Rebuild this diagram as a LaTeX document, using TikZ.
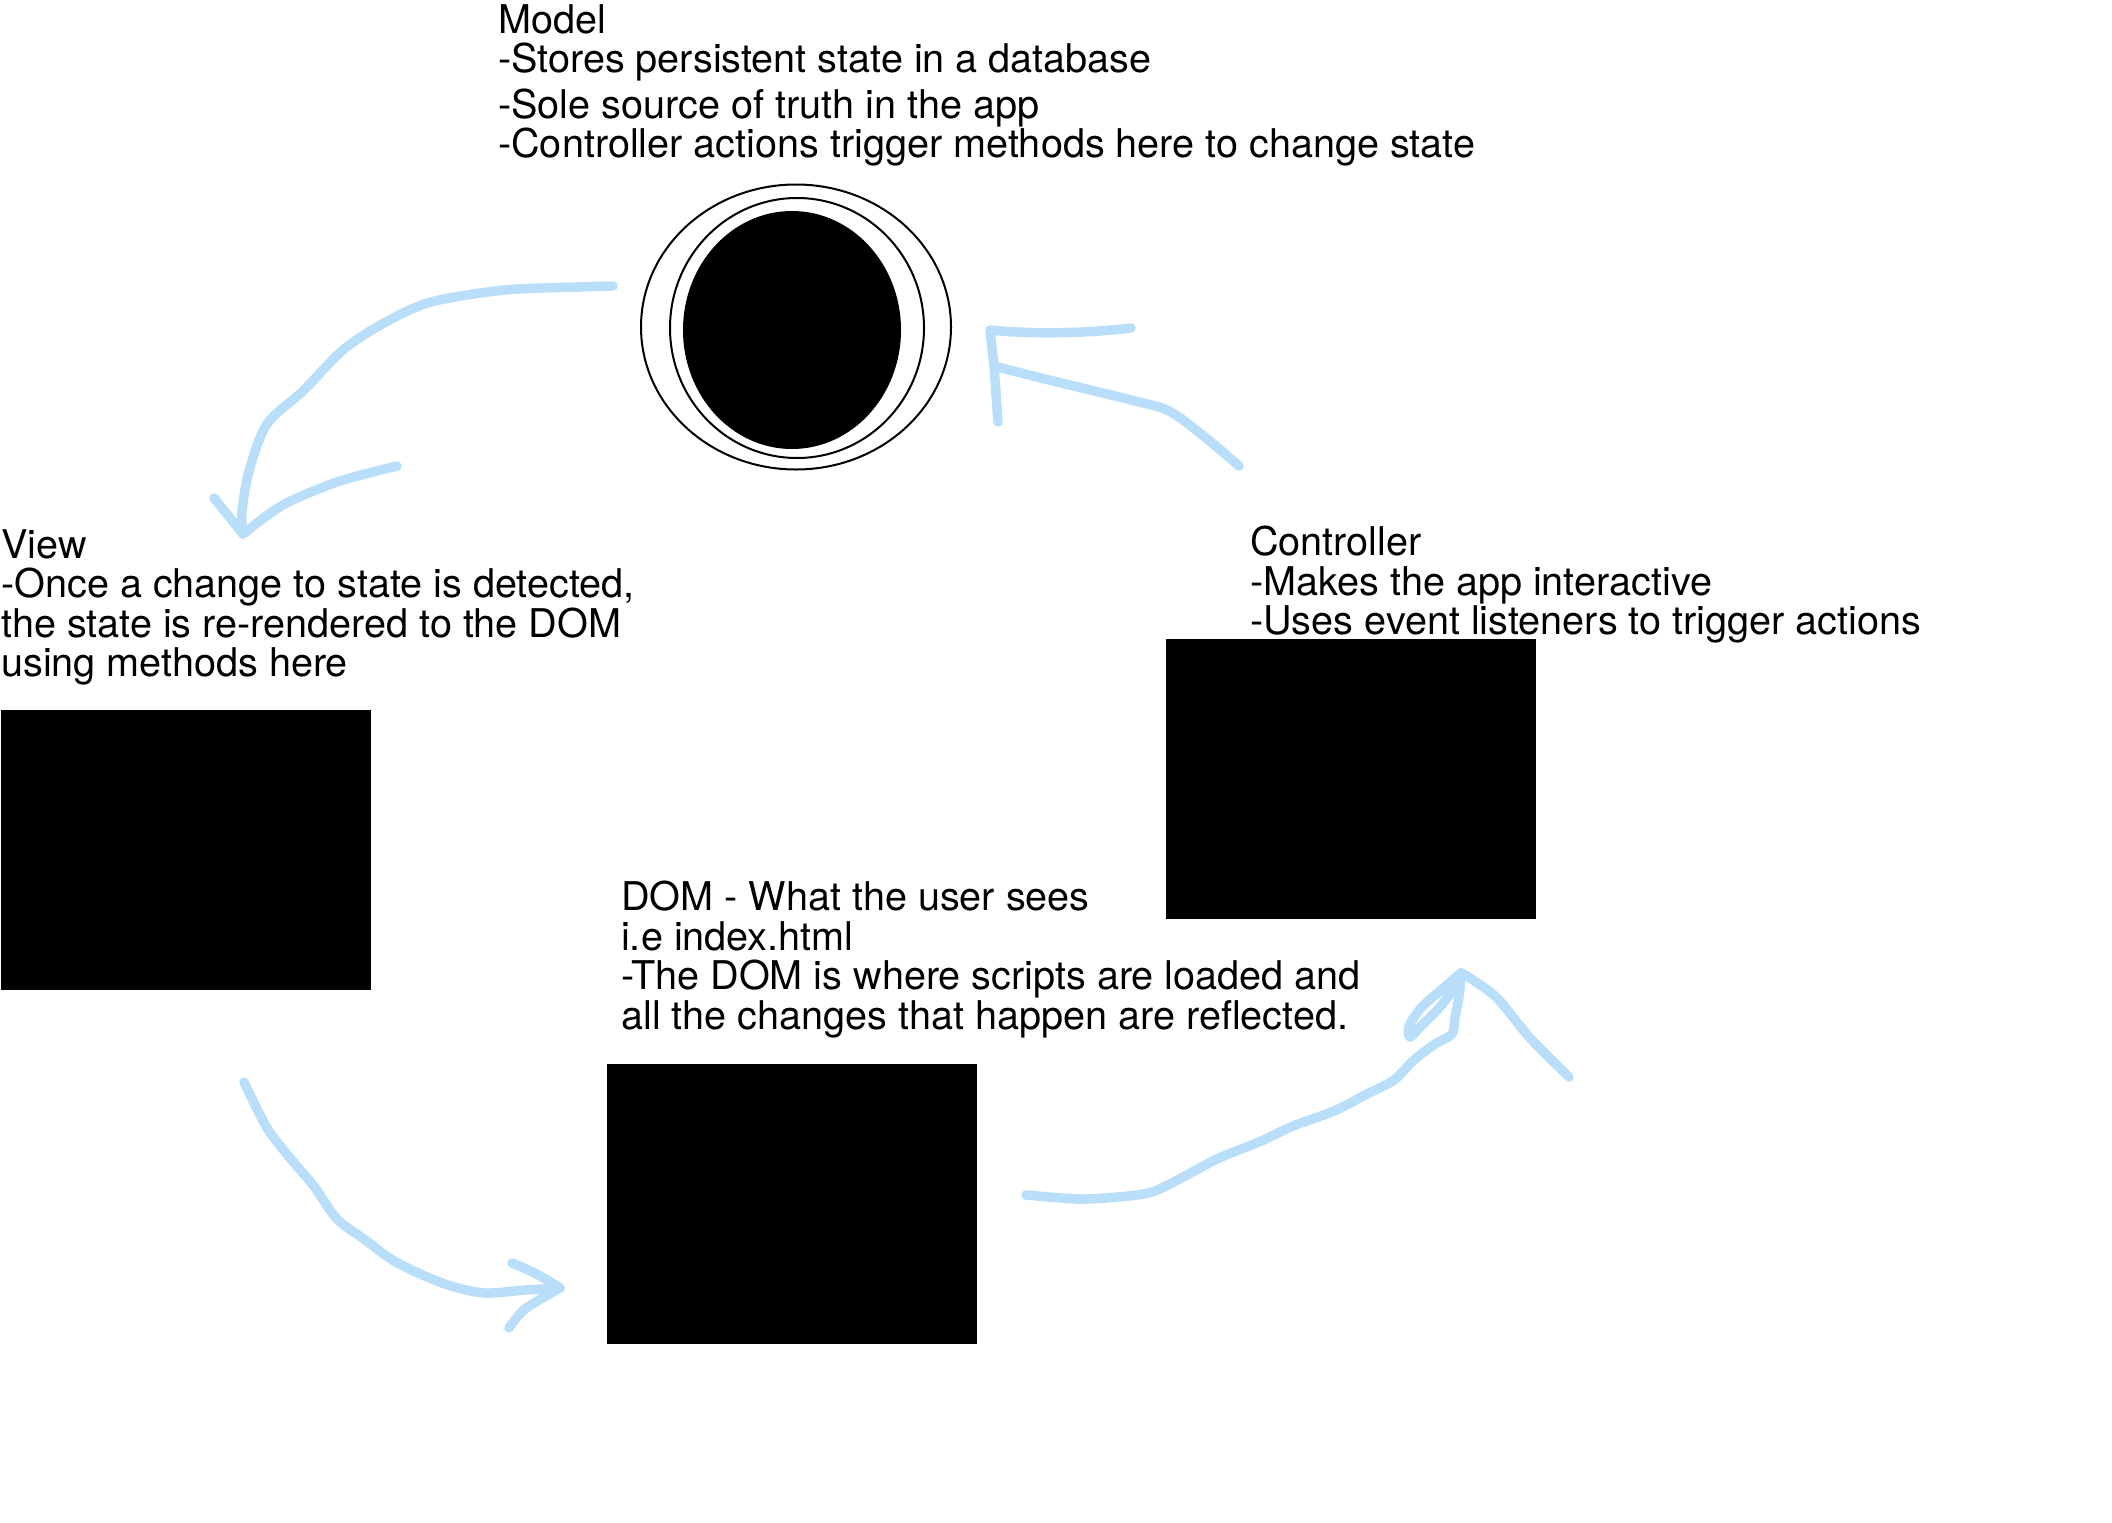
\documentclass[tikz,border=0pt]{standalone}
\usepackage{fontspec}
\setmainfont{TeX Gyre Heros}
\usetikzlibrary{shapes.geometric}

\definecolor{penblue}{RGB}{184,222,250}

\begin{document}
\begin{tikzpicture}[x=1pt,y=-1pt,
  sketch/.style={penblue, line width=9.5pt, line cap=round, line join=round},
  blackbox/.style={fill=black, inner sep=0pt, minimum width=370pt, minimum height=280pt},
  ring/.style={ellipse, draw, line width=2pt, inner sep=0pt},
  blurb/.style={anchor=north west, align=left, inner sep=0pt, font=\fontsize{39.6}{39.5}\selectfont}]

  \useasboundingbox (0,0) rectangle (2112,1523);

  % Texts
  \node[blurb] (model-txt) at (498,4) {Model\\-Stores persistent state in a database\\[6pt]-Sole source of truth in the app\\-Controller actions trigger methods here to change state};
  \node[blurb] (view-txt) at (1,529) {View\\-Once a change to state is detected,\\the state is re-rendered to the DOM\\using methods here};
  \node[blurb] (ctrl-txt) at (1250,526) {Controller\\-Makes the app interactive\\-Uses event listeners to trigger actions};
  \node[blurb] (dom-txt) at (621,881) {DOM - What the user sees\\i.e index.html\\-The DOM is where scripts are loaded and\\all the changes that happen are reflected.};

  % Model rings
  \node[ring, minimum width=310pt, minimum height=285pt] (model-out) at (796,327) {};
  \node[ring, minimum width=254pt, minimum height=260pt] (model-mid) at (797,328) {};
  \node[ellipse, fill=black, minimum width=218pt, minimum height=238pt] (model) at (792,330) {};

  % Boxes
  \node[blackbox] (view) at (185.5,850) {};
  \node[blackbox] (ctrl) at (1350.5,778.5) {};
  \node[blackbox] (dom) at (792,1204) {};

  % Model -> View
  \coordinate (mv-start) at (613,286);
  \coordinate (mv-tip) at (243,534);
  \coordinate (mv-left) at (214,498);
  \coordinate (mv-right) at (397,466);
  \draw[sketch] plot[smooth] coordinates {(mv-start) (579,287) (505,290) (431,302) (384,323) (343,350) (303,391) (267,424) (249,471) (242,512) (mv-tip)};
  \draw[sketch] (mv-left) -- (mv-tip);
  \draw[sketch] plot[smooth] coordinates {(mv-tip) (283,505) (337,482) (mv-right)};

  % Controller -> Model
  \coordinate (cm-start) at (1239,466);
  \coordinate (cm-tip) at (990,330);
  \coordinate (cm-join) at (994,366);
  \coordinate (cm-top) at (1131,328);
  \coordinate (cm-down) at (998,422);
  \draw[sketch] plot[smooth] coordinates {(cm-start) (1206,438) (1169,411) (1131,400) (1078,387) (1037,377) (cm-join)};
  \draw[sketch] (cm-top) .. controls (1080,334) and (1030,334) .. (cm-tip) -- (cm-join) -- (cm-down);

  % View -> DOM
  \coordinate (vd-start) at (244,1082);
  \coordinate (vd-tip) at (560,1288);
  \coordinate (vd-up) at (512,1263);
  \coordinate (vd-low) at (509,1328);
  \draw[sketch] plot[smooth] coordinates {(vd-start) (256,1107) (269,1131) (290,1158) (313,1185) (337,1219) (364,1239) (391,1259) (418,1273) (451,1286) (485,1293) (525,1290) (vd-tip)};
  \draw[sketch] (vd-up) .. controls (530,1270) and (545,1278) .. (vd-tip);
  \draw[sketch] plot[smooth] coordinates {(vd-low) (525,1309) (vd-tip)};

  % DOM -> Controller
  \coordinate (dc-start) at (1026,1195);
  \coordinate (dc-tip) at (1461,973);
  \coordinate (dc-right) at (1569,1077);
  \draw[sketch] plot[smooth] coordinates {(dc-start) (1078,1199) (1118,1197) (1152,1192) (1185,1176) (1219,1158) (1259,1142) (1293,1126) (1334,1111) (1367,1094) (1394,1080) (1414,1060) (1435,1044) (1452,1034) (1455,1017) (1459,997) (dc-tip)};
  \draw[sketch] plot[smooth] coordinates {(dc-tip) (1441,990) (1421,1008) (1409,1026) (1410,1037) (1421,1026) (1439,1008) (1455,987) (dc-tip)};
  \draw[sketch] plot[smooth] coordinates {(dc-tip) (1470,978) (1497,998) (1530,1038) (dc-right)};

\end{tikzpicture}
\end{document}
